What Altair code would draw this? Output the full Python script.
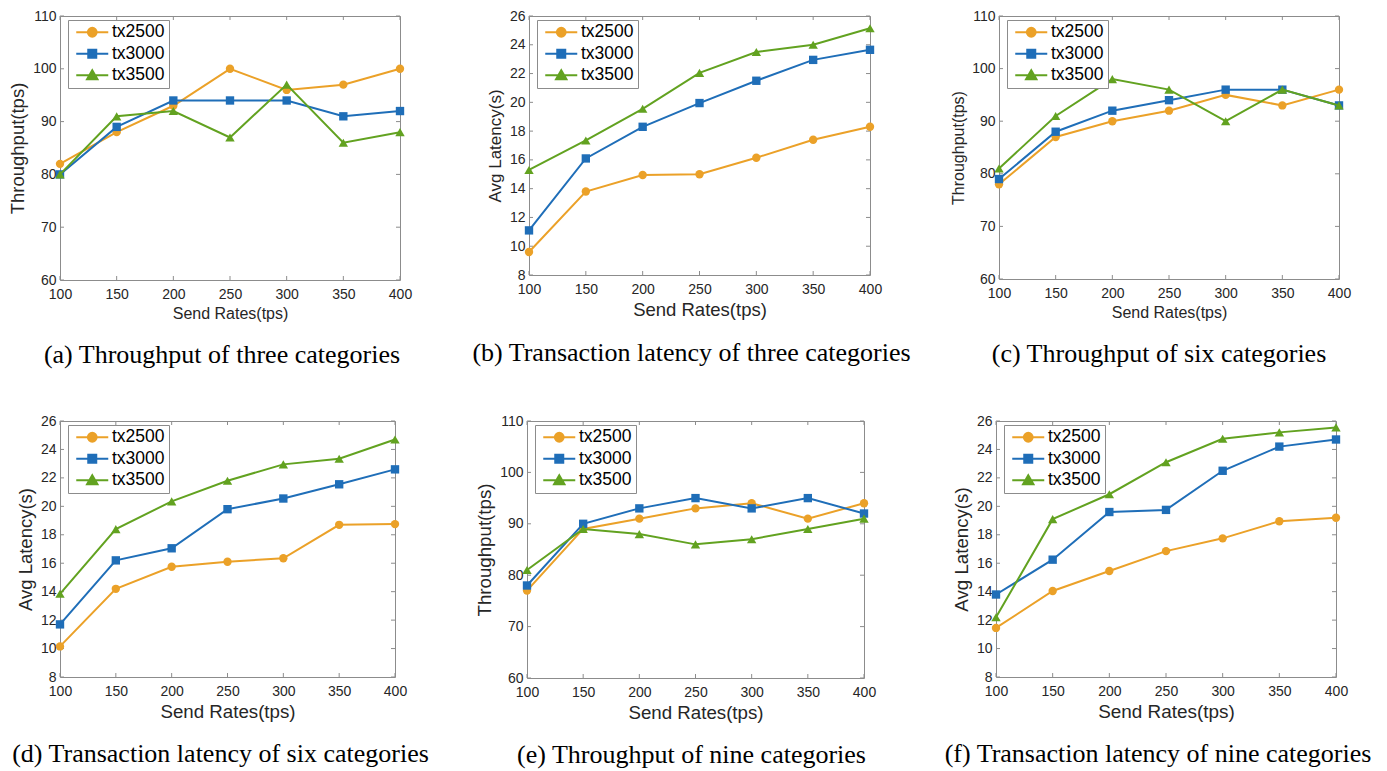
import altair as alt
import pandas as pd

rates = [100, 150, 200, 250, 300, 350, 400]
series_names = ["tx2500", "tx3000", "tx3500"]

# (a) Throughput of three categories
a_tx2500 = [82, 88, 93, 100, 96, 97, 100]
a_tx3000 = [80, 89, 94, 94, 94, 91, 92]
a_tx3500 = [80, 91, 92, 87, 97, 86, 88]
# (b) Transaction latency of three categories
b_tx2500 = [9.6, 13.8, 14.95, 15.0, 16.15, 17.4, 18.3]
b_tx3000 = [11.1, 16.1, 18.3, 19.95, 21.5, 22.95, 23.65]
b_tx3500 = [15.3, 17.35, 19.55, 22.05, 23.5, 24.0, 25.15]
# (c) Throughput of six categories
c_tx2500 = [78, 87, 90, 92, 95, 93, 96]
c_tx3000 = [79, 88, 92, 94, 96, 96, 93]
c_tx3500 = [81, 91, 98, 96, 90, 96, 93]
# (d) Transaction latency of six categories
d_tx2500 = [10.15, 14.2, 15.75, 16.1, 16.35, 18.7, 18.75]
d_tx3000 = [11.7, 16.2, 17.05, 19.8, 20.55, 21.55, 22.6]
d_tx3500 = [13.85, 18.4, 20.35, 21.8, 22.95, 23.35, 24.7]
# (e) Throughput of nine categories
e_tx2500 = [77, 89, 91, 93, 94, 91, 94]
e_tx3000 = [78, 90, 93, 95, 93, 95, 92]
e_tx3500 = [81, 89, 88, 86, 87, 89, 91]
# (f) Transaction latency of nine categories
f_tx2500 = [11.45, 14.05, 15.45, 16.85, 17.75, 18.95, 19.2]
f_tx3000 = [13.8, 16.25, 19.6, 19.75, 22.5, 24.2, 24.7]
f_tx3500 = [12.2, 19.1, 20.85, 23.1, 24.75, 25.2, 25.55]

tp_ticks = [60, 70, 80, 90, 100, 110]
lat_ticks = [8, 10, 12, 14, 16, 18, 20, 22, 24, 26]

colors = ["#EBA128", "#1F6EB8", "#62A220"]
marker_shapes = ["circle", "square", "triangle-up"]
legend_paths = [
    "M-1,0L7,0M4.1,0A1.1,1.1 0 1,1 1.9,0A1.1,1.1 0 1,1 4.1,0Z",
    "M-1,0L7,0M2,-1L4,-1L4,1L2,1Z",
    "M-1,0L7,0M3,-1.25L4.3,1L1.7,1Z",
]
GRAY = "#8c8c8c"
FONT = "Liberation Sans"
IND = dict(fill="independent", stroke="independent", shape="independent")


def make_df(vals3):
    rows = []
    for name, vals in zip(series_names, vals3):
        for r, v in zip(rates, vals):
            rows.append({"rate": r, "value": v, "series": name})
    return pd.DataFrame(rows)


def panel(vals3, ytitle, ydomain, yticks, caption, w, h, xts, yts, cap_dx, cap_off):
    df = make_df(vals3)
    xs = alt.Scale(domain=[100, 400], nice=False, zero=False)
    ys = alt.Scale(domain=ydomain, nice=False, zero=False)
    X = alt.X("rate:Q", scale=xs,
              axis=alt.Axis(values=rates, title="Send Rates(tps)", titleFontSize=xts))
    Y = alt.Y("value:Q", scale=ys,
              axis=alt.Axis(values=yticks, title=ytitle, titleFontSize=yts))
    cscale = alt.Scale(domain=series_names, range=colors)
    layers = []
    # inward tick marks
    xt = pd.DataFrame({"rate": rates})
    yt = pd.DataFrame({"value": yticks})
    layers.append(alt.Chart(xt).mark_rule(color=GRAY, strokeWidth=1).encode(
        x=X, y=alt.value(0), y2=alt.value(4)))
    layers.append(alt.Chart(xt).mark_rule(color=GRAY, strokeWidth=1).encode(
        x=X, y=alt.value(h), y2=alt.value(h - 4)))
    layers.append(alt.Chart(yt).mark_rule(color=GRAY, strokeWidth=1).encode(
        y=Y, x=alt.value(0), x2=alt.value(4)))
    layers.append(alt.Chart(yt).mark_rule(color=GRAY, strokeWidth=1).encode(
        y=Y, x=alt.value(w), x2=alt.value(w - 4)))
    base = alt.Chart(df)
    for name, shp in zip(series_names, marker_shapes):
        sub = base.transform_filter(alt.datum.series == name)
        layers.append(sub.mark_line(strokeWidth=2).encode(
            x=X, y=Y, color=alt.Color("series:N", scale=cscale, legend=None)))
        sz = 88 if shp == "triangle-up" else 70
        layers.append(sub.mark_point(shape=shp, filled=True, size=sz, opacity=1).encode(
            x=X, y=Y, color=alt.Color("series:N", scale=cscale, legend=None)))
    leg = alt.Legend(title=None, orient="none", legendX=8, legendY=4, padding=3.5,
                     strokeColor=GRAY, fillColor="white", labelFont=FONT,
                     labelFontSize=17.5, labelColor="black", labelOffset=23,
                     symbolSize=64, symbolStrokeWidth=2, rowPadding=2.5,
                     symbolOpacity=1)
    layers.append(base.transform_filter("datum.rate < 0").mark_point(filled=True, size=64).encode(
        x=X, y=Y,
        fill=alt.Fill("series:N", scale=alt.Scale(domain=series_names, range=colors), legend=leg),
        stroke=alt.Stroke("series:N", scale=alt.Scale(domain=series_names, range=colors), legend=leg),
        shape=alt.Shape("series:N", scale=alt.Scale(domain=series_names, range=legend_paths), legend=leg),
    ))
    return alt.layer(*layers).properties(
        width=w, height=h,
        title=alt.Title(caption, orient="bottom", font="Liberation Serif", fontSize=26,
                        fontWeight="normal", color="black", offset=cap_off, anchor="middle",
                        frame="group", dx=cap_dx),
    )


pa = panel([a_tx2500, a_tx3000, a_tx3500], "Throughput(tps)", [60, 110], tp_ticks,
           "(a)  Throughput of three categories", 340, 264, 16, 18.5, -8, 21)
pb = panel([b_tx2500, b_tx3000, b_tx3500], "Avg Latency(s)", [8, 26], lat_ticks,
           "(b)  Transaction latency of three categories", 341, 259, 18.5, 17, -8, 21)
pc = panel([c_tx2500, c_tx3000, c_tx3500], "Throughput(tps)", [60, 110], tp_ticks,
           "(c)  Throughput of six categories", 340, 263, 16, 16, -10, 21)
pd_ = panel([d_tx2500, d_tx3000, d_tx3500], "Avg Latency(s)", [8, 26], lat_ticks,
            "(d)  Transaction latency of six categories", 335, 256, 18.7, 18.5, -7, 20)
pe = panel([e_tx2500, e_tx3000, e_tx3500], "Throughput(tps)", [60, 110], tp_ticks,
           "(e)  Throughput of nine categories", 337, 257, 18.7, 18.7, -4, 20)
pf = panel([f_tx2500, f_tx3000, f_tx3500], "Avg Latency(s)", [8, 26], lat_ticks,
           "(f)  Transaction latency of nine categories", 340, 256, 18.9, 18.7, -8, 20)

row1 = alt.hconcat(pa, pb, pc, spacing=129, bounds="flush").resolve_scale(**IND).resolve_legend(**IND)
row2 = alt.hconcat(pd_, pe, pf, spacing=132, bounds="flush").resolve_scale(**IND).resolve_legend(**IND)
chart = alt.vconcat(row1, row2, spacing=44).resolve_scale(**IND).resolve_legend(**IND).properties(
    padding={"left": 0, "top": 0, "right": 0, "bottom": 0}
).configure_view(
    stroke=GRAY, strokeWidth=1
).configure_axis(
    grid=False, ticks=False, domain=False, labelFlush=False,
    labelFont=FONT, labelFontSize=14, labelColor="#262626", labelPadding=4,
    titleFont=FONT, titleFontWeight="normal", titleColor="#262626", titlePadding=5,
).configure_axisX(labelPadding=7, titlePadding=4)

chart.save("out.html", embed_options={"renderer": "svg", "actions": False})
